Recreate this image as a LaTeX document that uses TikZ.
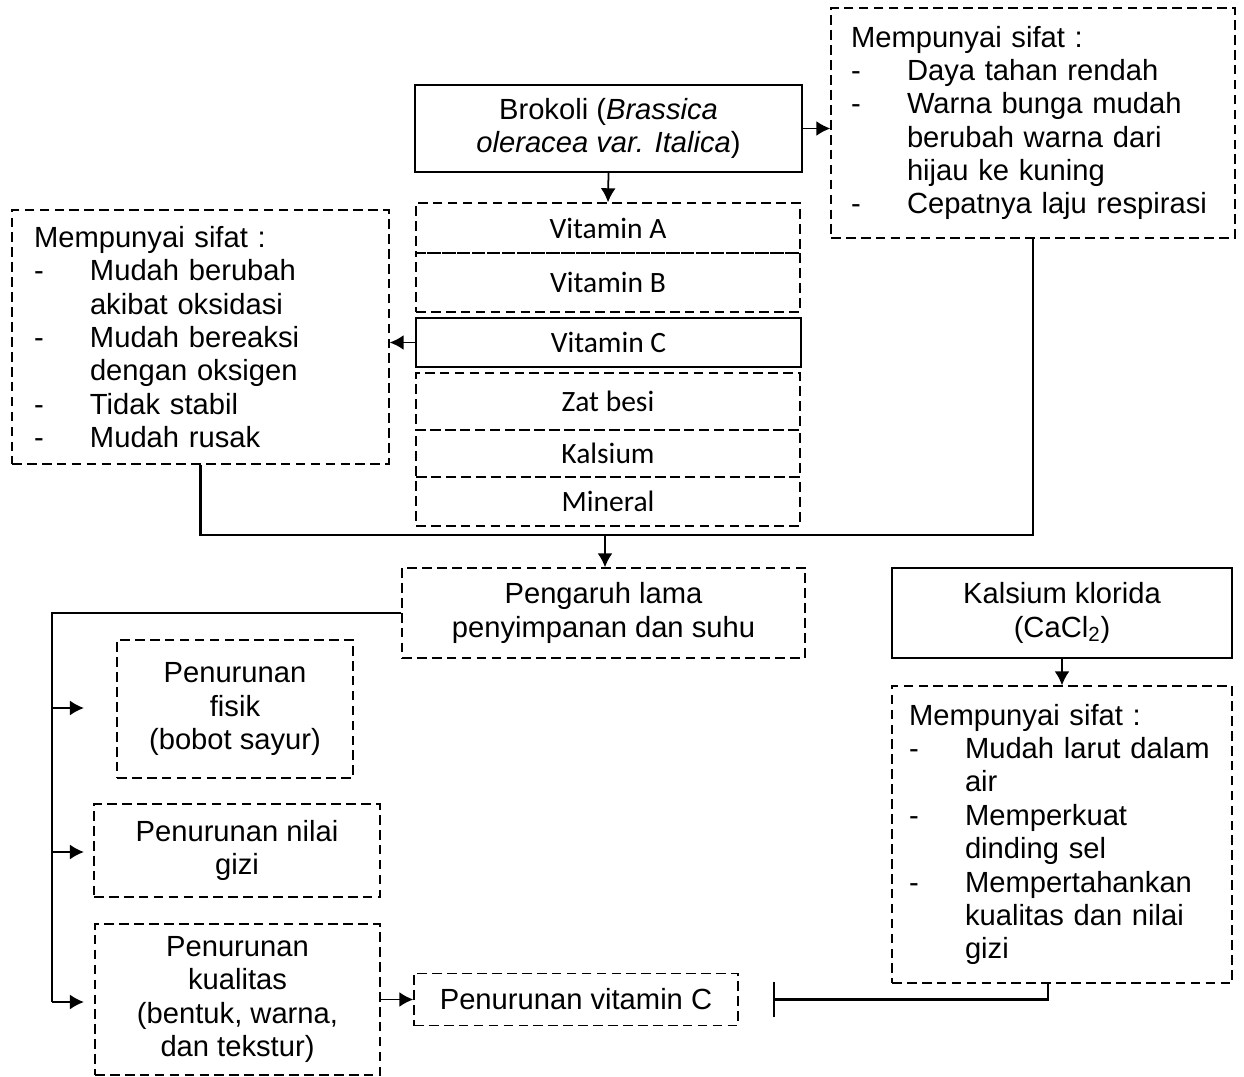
\documentclass[tikz,border=0pt]{standalone}
\usepackage{fontspec}
\setmainfont{Liberation Sans}
\newfontfamily\calibri{Carlito}
\usetikzlibrary{arrows.meta}
\newlength\ux
\setlength\ux{0.02cm}
\newcommand{\itm}[1]{\makebox[56\ux][l]{-}#1}
\newcommand{\cnt}[1]{\hspace*{56\ux}#1}

\begin{document}
\begin{tikzpicture}[x=1\ux, y=-1\ux,
  box/.style={draw, line width=0.75pt, align=center, inner sep=0pt,
    font=\fontsize{16.6}{19}\selectfont},
  dbox/.style={box, dash pattern=on 5.5pt off 3pt},
  lbox/.style={dbox, align=left, inner xsep=20\ux},
  vbox/.style={draw, line width=0.75pt, minimum width=384\ux, inner sep=0pt,
    font=\calibri\fontsize{16.8}{19}\selectfont},
  link/.style={line width=1.3pt},
  arr/.style={line width=1pt, -{Latex[length=8pt,width=8.5pt]}}]
\useasboundingbox (0,0) rectangle (1244,1077);

\node[box, minimum width=387\ux, minimum height=87\ux] (brokoli) at (608.5,128.5)
  {Brokoli (\textit{Brassica}\\\textit{oleracea var. Italica})};
\node[lbox, text width=364\ux, minimum height=230\ux] (sifatA) at (1033,123)
  {Mempunyai sifat :\\
   \itm{Daya tahan rendah}\\
   \itm{Warna bunga mudah}\\
   \cnt{berubah warna dari}\\
   \cnt{hijau ke kuning}\\
   \itm{Cepatnya laju respirasi}};
\node[lbox, inner xsep=22\ux, text width=333\ux, minimum height=254\ux] (sifatC) at (200.5,337)
  {Mempunyai sifat :\\
   \itm{Mudah berubah}\\
   \cnt{akibat oksidasi}\\
   \itm{Mudah bereaksi}\\
   \cnt{dengan oksigen}\\
   \itm{Tidak stabil}\\
   \itm{Mudah rusak}};

% kandungan brokoli
\node[vbox, dash pattern=on 5.5pt off 3pt, minimum height=50\ux] (vita) at (608,228) {Vitamin A};
\node[vbox, dash pattern=on 5.5pt off 3pt, minimum height=59\ux] (vitb) at (608,282.5) {Vitamin B};
\node[vbox, minimum width=385\ux, minimum height=49\ux] (vitc) at (608.5,342.5) {Vitamin C};
\node[vbox, dash pattern=on 5.5pt off 3pt, minimum height=57\ux] (besi) at (608,401.5) {Zat besi};
\node[vbox, dash pattern=on 5.5pt off 3pt, minimum height=47\ux] (kals) at (608,453.5) {Kalsium};
\node[vbox, dash pattern=on 5.5pt off 3pt, minimum height=49\ux] (mineral) at (608,501.5) {Mineral};

\node[dbox, minimum width=403\ux, minimum height=90\ux] (pengaruh) at (603.5,613)
  {Pengaruh lama\\penyimpanan dan suhu};
\node[box, minimum width=340\ux, minimum height=90\ux] (klorida) at (1062,613)
  {Kalsium klorida\\(CaCl\textsubscript{2})};
\node[lbox, inner xsep=17\ux, text width=306\ux, minimum height=297\ux] (sifatK) at (1062,834.5)
  {Mempunyai sifat :\\
   \itm{Mudah larut dalam}\\
   \cnt{air}\\
   \itm{Memperkuat}\\
   \cnt{dinding sel}\\
   \itm{Mempertahankan}\\
   \cnt{kualitas dan nilai}\\
   \cnt{gizi}};

% penurunan
\node[dbox, minimum width=236\ux, minimum height=138\ux] (fisik) at (235,709)
  {Penurunan\\fisik\\(bobot sayur)};
\node[dbox, minimum width=286\ux, minimum height=93\ux] (gizi) at (237,850.5)
  {Penurunan nilai\\gizi};
\node[dbox, minimum width=285\ux, minimum height=151\ux] (kualitas) at (237.5,999.5)
  {Penurunan\\kualitas\\(bentuk, warna,\\dan tekstur)};
\node[dbox, minimum width=324\ux, minimum height=52\ux] (vitcturun) at (576,999.5)
  {Penurunan vitamin C};

\coordinate (join) at (605,535);
\coordinate (trunk) at (52,1002);
\coordinate (tfisik) at (84,708);
\coordinate (tgizi) at (84,852);
\coordinate (tkual) at (84,1002);
\coordinate (kfoot) at (1048,983);
\coordinate (bar) at (773,999.5);

\draw[arr] (brokoli.south) -- (vita.north);
\draw[arr] (brokoli.east) -- (sifatA.west |- brokoli.east);
\draw[arr] (vitc.west) -- (sifatC.east |- vitc.west);
\draw[link] (sifatC.south) |- (join) -| (sifatA.south);
\draw[arr] (join) -- (join |- pengaruh.north);

\draw[link] (pengaruh.west) -| (trunk);
\draw[arr] (trunk |- tfisik) -- (tfisik);
\draw[arr] (trunk |- tgizi) -- (tgizi);
\draw[arr] (trunk |- tkual) -- (tkual);
\draw[arr] (kualitas.east |- vitcturun) -- (vitcturun.west);

\draw[arr] (klorida.south) -- (sifatK.north);
\draw[link, -{Bar[width=20pt]}] (kfoot) |- (bar);

\end{tikzpicture}
\end{document}
